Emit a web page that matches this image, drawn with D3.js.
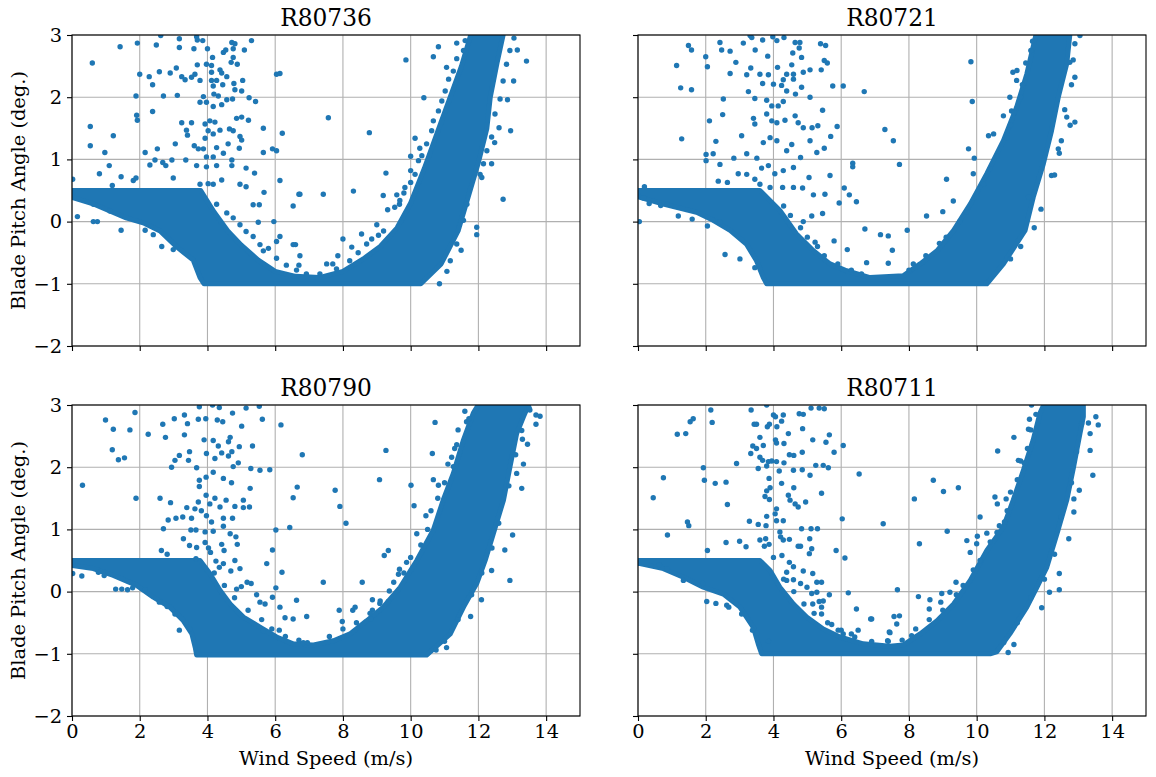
<!DOCTYPE html>
<html>
<head>
<meta charset="utf-8">
<script src="https://cdn.jsdelivr.net/npm/d3@7"></script>
<style>
  body{ margin:0; background:#fff; font-family:"DejaVu Serif",serif; }
</style>
</head>
<body>
<div id="chart"></div>
<script>
// turbines, in panel order (row by row)
var turbines = ["R80736", "R80721", "R80790", "R80711"]
var xTicks = [0, 2, 4, 6, 8, 10, 12, 14]
var yTicks = [-2, -1, 0, 1, 2, 3]

// outline of the dense cloud of points (wind speed, pitch)
var band80736 = [[0,0.5],[3.8,0.5],[4.2,0.15],[4.6,-0.15],[5,-0.38],[5.5,-0.62],[6,-0.8],[6.6,-0.88],[7.3,-0.9],[8,-0.8],[8.6,-0.6],[9.1,-0.4],[9.6,-0.1],[10,0.3],[10.4,0.85],[10.8,1.45],[11.2,2.05],[11.5,2.5],[11.8,3.05],[12.75,3.05],[12.55,2.55],[12.35,2.0],[12.25,1.5],[12.0,0.95],[11.7,0.4],[11.4,-0.15],[10.9,-0.68],[10.3,-1.0],[3.9,-1.0],[3.78,-0.9],[3.58,-0.62],[3.1,-0.41],[2.6,-0.15],[2.1,-0.02],[1.6,0.06],[0.6,0.29],[0,0.39]]
var band80721 = [[0,0.5],[3.6,0.5],[4.19,0.18],[4.68,-0.2],[5.18,-0.47],[5.67,-0.68],[6.16,-0.79],[6.85,-0.9],[7.83,-0.87],[8.33,-0.68],[8.83,-0.47],[9.32,-0.14],[9.81,0.28],[10.3,0.77],[10.79,1.3],[11.18,1.84],[11.48,2.37],[11.77,3.05],[12.76,3.05],[12.66,2.54],[12.41,2.0],[12.21,1.46],[11.97,0.93],[11.67,0.39],[11.43,-0.14],[10.79,-0.68],[10.3,-1.0],[3.8,-1.0],[3.7,-0.9],[3.5,-0.63],[3.2,-0.36],[2.72,-0.14],[2.22,0.02],[1.73,0.15],[0.75,0.28],[0.06,0.39],[0,0.4]]
var band80790 = [[0,0.5],[3.78,0.5],[4.07,0.29],[4.37,0.02],[4.67,-0.2],[5.06,-0.41],[5.55,-0.57],[6.04,-0.73],[6.53,-0.84],[7.1,-0.86],[7.72,-0.79],[8.21,-0.68],[8.7,-0.47],[9.19,-0.25],[9.69,0.07],[10.18,0.5],[10.67,0.99],[10.96,1.47],[11.26,1.9],[11.56,2.44],[11.85,2.87],[12.05,3.05],[13.52,3.05],[13.33,2.81],[13.13,2.54],[12.93,2.0],[12.74,1.47],[12.44,0.93],[12.2,0.5],[11.95,0.13],[11.56,-0.25],[11.17,-0.68],[10.47,-1.02],[3.68,-1.02],[3.64,-0.9],[3.54,-0.68],[3.29,-0.47],[2.89,-0.25],[2.4,-0.09],[1.91,0.1],[1.22,0.26],[0.63,0.37],[0,0.42]]
var band80711 = [[0,0.5],[3.6,0.5],[3.9,0.34],[4.19,0.07],[4.59,-0.2],[4.98,-0.41],[5.47,-0.6],[5.96,-0.73],[6.65,-0.84],[7.44,-0.88],[7.83,-0.86],[8.33,-0.68],[8.83,-0.47],[9.32,-0.2],[9.81,0.18],[10.3,0.66],[10.79,1.04],[11.08,1.47],[11.38,1.95],[11.67,2.44],[11.87,2.87],[12.02,3.05],[13.15,3.05],[13.15,2.81],[13.05,2.54],[12.86,2.0],[12.66,1.47],[12.37,0.93],[12.07,0.39],[11.77,0.06],[11.48,-0.25],[10.98,-0.68],[10.59,-0.97],[10.4,-1.0],[3.65,-1.0],[3.55,-0.84],[3.41,-0.58],[3.01,-0.25],[2.52,-0.04],[1.93,0.07],[1.34,0.23],[0.75,0.37],[0.06,0.45],[0,0.45]]

// scattered points outside the dense cloud
var pts80736 = [[1.42,2.81],[1.93,2.87],[0.6,2.55],[2.49,2.84],[3.17,2.94],[3.17,2.8],[2.62,2.99],[3.68,2.97],[3.7,2.92],[3.86,2.91],[4.0,2.78],[3.6,2.78],[4.15,2.64],[4.47,2.72],[4.72,2.88],[4.81,2.86],[4.76,2.78],[4.54,2.76],[4.76,2.64],[4.7,2.56],[4.88,2.53],[5.09,2.76],[5.3,2.91],[3.7,2.52],[3.97,2.53],[4.12,2.51],[2.0,2.37],[2.28,2.33],[2.58,2.41],[2.9,2.39],[3.08,2.47],[2.38,2.2],[3.24,2.33],[3.34,2.28],[3.63,2.37],[3.78,2.27],[3.53,2.32],[4.12,2.4],[4.37,2.44],[4.42,2.39],[4.57,2.33],[4.27,2.27],[4.12,2.27],[4.17,2.18],[4.45,2.2],[4.78,2.22],[5.04,2.27],[4.81,2.12],[5.01,2.1],[6.04,2.37],[6.14,2.38],[1.89,2.02],[2.7,2.02],[3.11,2.03],[3.88,2.01],[3.78,1.92],[3.97,1.92],[4.19,2.05],[4.32,2.02],[4.57,1.96],[4.74,1.97],[4.42,1.88],[4.17,1.85],[5.23,1.99],[5.42,1.93],[2.38,1.77],[1.91,1.71],[1.93,1.63],[0.54,1.53],[1.22,1.38],[0.54,1.22],[3.24,1.59],[3.53,1.59],[3.38,1.47],[3.41,1.39],[3.93,1.57],[4.07,1.62],[4.22,1.6],[4.02,1.46],[4.17,1.41],[4.37,1.47],[4.65,1.49],[4.76,1.46],[4.86,1.66],[5.01,1.68],[5.21,1.63],[4.96,1.37],[5.01,1.31],[5.65,1.5],[6.21,1.42],[2.16,1.11],[2.52,1.17],[3.05,1.25],[3.61,1.22],[3.73,1.17],[3.93,1.34],[3.88,1.17],[4.27,1.19],[4.61,1.25],[4.94,1.18],[5.65,1.11],[5.92,1.17],[6.04,1.14],[0.97,1.11],[1.1,0.9],[0.81,0.77],[1.45,0.72],[2.3,0.91],[2.45,0.99],[2.68,0.95],[2.77,0.9],[2.95,0.99],[2.99,0.7],[3.36,0.99],[3.68,0.9],[3.97,1.04],[3.97,0.88],[4.17,1.04],[4.27,0.9],[4.47,1.1],[4.72,0.99],[4.72,0.9],[5.14,0.86],[5.39,0.78],[6.14,0.66],[1.89,0.7],[0.02,0.68],[1.19,0.58],[1.81,0.66],[3.78,0.6],[4.02,0.61],[4.17,0.6],[4.42,0.67],[4.96,0.6],[5.14,0.56],[5.67,0.47],[6.7,0.44],[6.53,0.25],[5.96,0],[5.5,-0.01],[5.35,0.27],[5.53,0.27],[0.16,0.08],[0.63,0],[0.75,0],[1.45,-0.14],[2.16,-0.14],[2.4,-0.21],[2.65,-0.4],[2.99,-0.45],[6.53,-0.37],[6.6,-0.37],[6.14,-0.24],[6.73,-0.55],[6.04,-0.32],[5.65,-0.47],[6.7,-0.7],[9.86,2.6],[7.57,1.67],[8.78,1.43],[6.73,0.44],[7.42,0.44],[8.31,0.49],[9.27,0.78],[9.19,0.42],[9.59,0.43],[9.67,0.28],[9.32,0.19],[8.0,-0.28],[8.55,-0.2],[8.26,-0.41],[7.52,-0.68],[7.7,-0.68],[7.85,-0.55],[10.39,1.99],[10.13,1.34],[10.0,1.05],[10.27,1.18],[10.0,0.82],[9.8,0.46],[10.67,2.65],[10.82,2.81],[11.06,2.48],[11.36,2.87],[12.73,0.36],[12.95,1.46],[12.39,0.93],[12.61,1.51],[12.86,1.96],[13.04,2.26],[13.42,2.58],[13.15,2.76],[13.05,2.95],[11.95,-0.09],[11.95,-0.21],[11.49,-0.46],[10.85,-1.0],[11.07,-0.8],[12.1,0.71],[12.48,1.27],
    [9.0,-0.05],[9.2,-0.15],[9.05,-0.22],[8.7,-0.36],[8.85,-0.28],[8.45,-0.5],[8.2,-0.63],[7.81,-0.76],[7.32,-0.84],[6.93,-0.87],[9.53,0.23],[9.68,0.34],[9.83,0.55],[10.0,0.63],[10.13,0.76],[10.23,0.98],[10.33,1.06],[10.47,1.25],[10.62,1.46],[10.67,1.62],[10.82,1.78],[10.92,1.94],[11.02,2.1],[11.12,2.29],[11.26,2.42],[11.36,2.62],[11.56,2.75],[11.61,2.91],[12.05,0.76],[12.15,0.93],[12.25,1.14],[12.39,1.36],[12.49,1.73],[12.64,1.97],[12.73,2.26],[12.83,2.53],[12.93,2.75],[11.66,0.28],[11.56,0.02],[11.36,-0.36],[11.17,-0.63],[4.27,0.28],[4.57,0.14],[4.76,0.06],[4.96,-0.05],[5.14,-0.16],[5.35,-0.24],[5.55,-0.37],[5.8,-0.43],[6.04,-0.59],[6.33,-0.7],[6.63,-0.78],[6.92,-0.84],[0.63,0.28],[1.12,0.17]]
var pts80721 = [[1.49,2.83],[1.58,2.76],[1.14,2.51],[1.26,2.15],[1.58,2.12],[1.29,1.33],[2.0,2.65],[2.05,2.49],[2.42,2.88],[2.47,2.76],[2.72,2.74],[2.89,2.56],[3.11,2.87],[3.31,2.99],[3.36,2.96],[3.68,2.92],[3.98,2.97],[4.1,2.91],[4.31,2.96],[4.64,2.88],[4.78,2.88],[4.76,2.79],[4.57,2.71],[4.83,2.64],[5.39,2.86],[5.54,2.83],[5.5,2.59],[5.59,2.55],[3.46,2.76],[3.83,2.66],[2.72,2.38],[3.21,2.36],[3.33,2.47],[3.6,2.37],[3.85,2.36],[4.12,2.48],[4.54,2.52],[4.39,2.37],[4.59,2.37],[4.88,2.4],[5.08,2.44],[5.41,2.44],[3.68,2.22],[4.0,2.21],[4.29,2.28],[4.59,2.29],[4.24,2.19],[4.39,2.1],[4.65,2.05],[4.83,2.16],[5.08,2.0],[5.75,2.18],[6.06,2.18],[6.68,2.09],[7.29,1.48],[2.52,1.97],[2.11,1.62],[2.5,1.72],[3.26,2.09],[3.45,1.98],[3.8,1.95],[3.95,1.86],[4.14,1.86],[4.29,1.93],[3.8,1.73],[3.41,1.66],[3.45,1.57],[3.95,1.62],[4.1,1.59],[4.34,1.63],[4.64,1.7],[4.73,1.59],[5.14,1.51],[5.31,1.54],[5.88,1.53],[5.45,1.79],[4.88,1.51],[3.06,1.38],[3.7,1.27],[3.9,1.35],[4.1,1.3],[4.54,1.24],[4.39,1.14],[5.08,1.3],[5.28,1.11],[5.5,1.18],[5.69,1.37],[2.3,1.29],[2.01,1.08],[2.22,1.09],[2.01,0.98],[2.42,0.92],[2.83,1.02],[3.21,1.09],[3.51,1.02],[3.65,0.86],[3.85,0.9],[4.04,0.77],[4.29,0.82],[4.59,0.87],[4.8,1.03],[5.05,0.71],[5.67,0.74],[6.34,0.94],[6.34,0.88],[2.37,0.65],[2.64,0.63],[2.96,0.77],[3.21,0.76],[3.45,0.68],[3.6,0.6],[3.9,0.55],[4.27,0.55],[4.59,0.55],[4.86,0.54],[5.18,0.43],[5.52,0.44],[6.09,0.54],[6.24,0.43],[6.45,0.32],[5.94,0.3],[0.19,0.56],[0.16,0.38],[0.33,0.29],[0.67,0.26],[0.86,0.28],[1.19,0.09],[1.6,0.04],[0.04,0.0],[2.05,-0.07],[2.42,-0.01],[2.57,-0.53],[3.01,-0.6],[3.45,-0.74],[6.7,-0.12],[7.16,-0.21],[7.39,-0.23],[5.79,-0.31],[6.18,-0.45],[6.75,-0.66],[7.39,-0.67],[4.88,0.0],[5.13,0.09],[5.45,0.13],[5.23,-0.33],[9.83,2.57],[9.87,1.93],[7.54,1.3],[7.72,0.92],[9.11,0.68],[9.76,1.17],[9.93,1.02],[9.9,0.77],[8.52,0.09],[9.0,0.16],[9.31,0.33],[7.95,-0.14],[7.51,-0.46],[8.13,-0.68],[11.07,2.4],[11.19,2.43],[11.18,2.27],[10.98,2.0],[11.03,1.78],[10.79,1.7],[10.5,1.41],[10.35,1.38],[12.75,2.56],[12.9,2.32],[12.9,2.86],[13.05,2.99],[12.9,1.6],[12.76,1.55],[12.44,1.1],[12.21,0.74],[12.41,1.17],[12.66,1.68],[11.53,0.4],[10.28,-0.99],
    [4.3,0.25],[4.5,0.1],[4.8,-0.1],[5.0,-0.25],[5.3,-0.4],[5.5,-0.55],[5.9,-0.68],[6.3,-0.78],[6.6,-0.84],[8.0,-0.78],[8.5,-0.55],[8.9,-0.35],[9.1,-0.25],[9.5,0.0],[9.7,0.15],[10.0,0.4],[10.2,0.6],[10.4,0.85],[10.6,1.05],[10.9,1.35],[11.0,1.55],[11.1,1.75],[11.3,2.0],[11.35,2.2],[11.45,2.55],[11.6,2.75],[11.65,2.9],[12.3,0.75],[12.5,1.3],[12.6,1.8],[12.8,2.2],[12.85,2.6],[11.9,0.2],[11.7,-0.1],[11.3,-0.4],[11.0,-0.6]]
var pts80790 = [[0.99,2.76],[1.22,2.61],[1.19,2.28],[1.37,2.12],[1.55,2.15],[1.71,2.6],[1.86,2.88],[2.25,2.53],[0.31,1.71],[1.89,1.5],[2.6,1.5],[2.68,2.69],[2.76,2.48],[3.02,2.78],[3.32,2.84],[3.41,2.7],[3.32,2.52],[3.76,2.97],[3.73,2.77],[3.95,2.78],[4.15,3.0],[4.35,2.96],[4.29,2.76],[4.45,2.73],[4.74,2.87],[5.01,2.66],[5.14,2.95],[5.53,2.98],[5.62,2.77],[6.17,2.68],[6.8,2.2],[3.9,2.44],[4.17,2.43],[4.32,2.34],[4.67,2.48],[4.62,2.41],[4.72,2.25],[4.94,2.33],[5.33,2.34],[3.17,2.19],[3.04,2.11],[3.47,2.25],[3.44,2.11],[2.94,2.0],[3.68,1.99],[3.97,2.22],[4.22,2.14],[4.42,2.23],[4.62,2.18],[4.91,2.07],[4.76,2.01],[5.28,1.98],[5.55,1.95],[5.84,1.96],[3.76,1.79],[3.96,1.84],[4.17,1.92],[4.47,1.82],[4.71,1.75],[3.76,1.69],[3.96,1.55],[4.22,1.5],[4.55,1.47],[4.81,1.37],[5.06,1.47],[5.26,1.66],[5.06,1.35],[3.73,1.44],[3.39,1.35],[3.63,1.33],[4.07,1.41],[4.37,1.36],[5.24,1.36],[6.53,1.51],[6.65,1.68],[2.91,1.43],[2.84,1.15],[3.07,1.18],[3.27,1.2],[3.53,1.18],[3.82,1.3],[3.97,1.22],[4.12,1.12],[4.47,1.18],[4.74,1.18],[2.7,1.01],[3.51,0.99],[3.66,0.99],[3.93,0.96],[4.17,0.97],[4.47,1.05],[4.67,0.93],[4.84,0.88],[6.02,0.99],[6.43,1.03],[3.29,0.85],[3.47,0.74],[3.68,0.71],[3.93,0.79],[4.03,0.7],[4.42,0.76],[4.49,0.66],[4.88,0.76],[2.64,0.66],[2.81,0.6],[5.92,0.67],[3.66,0.53],[4.09,0.63],[4.25,0.49],[4.47,0.45],[4.35,0.39],[4.81,0.5],[4.69,0.33],[4.96,0.37],[5.75,0.45],[6.2,0.31],[4.86,0.04],[5.0,0.08],[5.17,0.15],[5.29,0.13],[6.02,0.06],[5.45,-0.05],[5.55,-0.17],[5.7,-0.2],[5.92,-0.09],[6.63,-0.14],[6.14,-0.25],[6.29,-0.42],[6.53,-0.44],[6.93,-0.4],[6.12,-0.62],[5.65,-0.63],[0.02,0.29],[0.29,0.25],[0.78,0.31],[0.95,0.26],[1.29,0.04],[1.47,0.04],[1.64,0.03],[1.79,0.06],[2.16,0.03],[2.58,-0.17],[2.81,-0.24],[3.04,-0.36],[3.17,-0.62],[3.37,-0.5],[3.48,-0.6],[6.83,-0.82],[6.95,-0.82],[9.27,2.27],[9.08,1.8],[7.77,1.63],[7.91,1.37],[8.09,1.1],[7.42,0.15],[8.57,0.15],[7.89,-0.3],[8.29,-0.3],[8.36,-0.25],[7.98,-0.48],[8.87,-0.13],[9.09,-0.19],[9.34,-0.16],[8.87,-0.3],[8.82,-0.44],[9.34,0.66],[9.22,0.58],[10.01,1.71],[10.1,1.38],[10.45,1.22],[10.64,2.22],[10.72,2.72],[10.67,1.8],[10.82,1.71],[10.18,0.93],[9.88,0.47],[9.67,0.36],[9.64,0.28],[9.37,0.01],[11.36,2.36],[11.21,2.16],[11.26,2.01],[11.65,2.73],[11.72,2.78],[13.82,2.82],[13.7,2.84],[13.7,2.69],[13.52,2.92],[13.28,2.59],[13.45,2.37],[13.33,2.05],[13.28,1.66],[13.13,1.9],[13.01,0.91],[12.78,0.67],[12.93,0.18],[12.39,0.34],[12.09,-0.13],[11.77,-0.4],[11.06,-0.9],[10.75,-0.94],
    [4.2,0.3],[4.5,0.1],[4.8,-0.1],[5.2,-0.3],[5.6,-0.45],[5.9,-0.6],[6.3,-0.72],[6.7,-0.78],[7.6,-0.72],[8.0,-0.6],[8.4,-0.5],[8.8,-0.35],[9.1,-0.15],[9.5,0.15],[9.8,0.3],[10.0,0.55],[10.3,0.75],[10.5,1.0],[10.6,1.3],[10.8,1.5],[11.0,1.75],[11.1,2.05],[11.3,2.3],[11.4,2.6],[11.6,2.9],[12.4,0.7],[12.6,1.1],[12.9,1.7],[13.1,2.2],[13.3,2.45],[13.5,2.95],[12.1,0.3],[11.8,-0.05],[11.4,-0.45],[11.0,-0.8]]
var pts80711 = [[0.45,1.51],[0.75,1.83],[0.87,0.91],[1.16,2.53],[1.41,2.54],[1.54,2.73],[1.63,2.78],[1.46,1.12],[1.5,1.06],[1.93,1.99],[1.96,1.79],[2.05,0.66],[2.15,2.92],[2.19,2.72],[2.28,1.74],[2.6,1.76],[2.64,1.4],[2.6,0.79],[3.0,0.81],[3.19,0.72],[2.91,2.06],[3.29,1.13],[3.34,2.92],[3.43,2.69],[3.5,2.69],[3.6,2.48],[3.7,2.35],[3.39,2.34],[3.5,2.3],[3.33,2.22],[3.6,2.16],[3.68,2.11],[3.55,1.98],[3.8,3.0],[3.82,2.65],[3.88,2.69],[4.0,2.84],[4.06,2.81],[4.29,2.84],[4.24,2.74],[4.1,2.65],[4.44,2.54],[4.06,2.44],[4.09,2.39],[4.31,2.38],[4.47,2.2],[4.6,2.19],[4.76,2.86],[4.88,2.85],[4.86,2.62],[4.85,2.24],[5.11,2.95],[5.35,2.95],[5.5,2.94],[5.16,2.44],[5.65,2.52],[5.55,2.4],[5.79,2.24],[6.06,2.35],[3.85,2.09],[3.95,2.1],[4.09,2.09],[4.31,2.07],[3.8,2.02],[4.17,1.94],[4.59,1.95],[4.85,1.96],[5.08,1.87],[5.25,2.03],[5.47,2.03],[5.62,1.99],[6.53,1.89],[3.87,1.82],[3.9,1.67],[4.24,1.74],[4.6,1.67],[3.8,1.62],[3.75,1.53],[3.88,1.48],[4.44,1.55],[4.49,1.47],[4.64,1.41],[4.73,1.36],[4.95,1.44],[5.42,1.58],[4.09,1.33],[4.05,1.25],[4.29,1.14],[4.09,1.14],[3.8,1.21],[3.55,1.08],[3.78,1.06],[4.83,1.01],[5.11,1.01],[5.3,1.01],[6.03,1.17],[7.24,1.09],[3.6,0.83],[3.77,0.85],[3.73,0.73],[3.87,0.76],[4.19,0.96],[4.21,0.88],[4.29,0.83],[4.47,0.84],[4.73,0.73],[4.8,0.73],[5.07,0.85],[5.13,0.69],[5.06,0.61],[5.85,0.66],[6.11,0.54],[4.0,0.55],[4.25,0.58],[4.47,0.47],[4.59,0.4],[4.39,0.31],[4.88,0.33],[5.16,0.29],[4.39,0.18],[4.59,0.19],[4.8,0.13],[4.99,0.07],[5.28,0.15],[5.42,0.15],[5.28,-0.01],[5.65,-0.05],[6.21,-0.02],[5.13,-0.03],[5.16,-0.2],[5.35,-0.16],[5.47,-0.15],[5.42,-0.25],[5.42,-0.36],[5.72,-0.53],[5.91,-0.62],[6.06,-0.68],[6.3,-0.68],[6.5,-0.62],[6.87,-0.44],[6.45,-0.28],[7.44,-0.66],[7.37,-0.79],[2.03,-0.16],[2.3,-0.19],[2.62,-0.22],[2.68,-0.25],[1.91,0.13],[1.34,0.18],[0.85,0.37],[0.63,0.43],[3.06,-0.36],[3.38,-0.62],[3.51,-0.67],[3.85,-0.8],[8.16,1.49],[8.31,0.77],[8.72,1.79],[9.02,1.61],[9.13,0.97],[9.46,1.67],[7.66,0.03],[8.28,-0.08],[6.9,-0.44],[7.56,-0.4],[7.72,-0.39],[7.64,-0.52],[7.42,-0.65],[7.39,-0.8],[8.08,-0.71],[8.62,-0.13],[8.6,-0.28],[8.97,-0.03],[8.94,-0.17],[9.21,-0.01],[9.39,0.15],[9.71,0.82],[9.81,0.63],[10.0,0.77],[10.02,0.89],[10.1,1.2],[10.3,0.94],[10.54,1.52],[10.61,1.41],[10.87,1.49],[10.67,1.06],[10.82,1.12],[10.62,2.26],[11.1,2.48],[11.23,2.11],[11.4,2.07],[11.53,2.61],[11.56,2.77],[11.62,3.0],[13.3,2.71],[13.52,2.81],[13.59,2.68],[13.35,2.54],[13.35,2.27],[13.43,1.87],[13.03,1.63],[12.87,1.49],[12.87,1.28],[12.72,0.85],[12.44,0.29],[12.44,0.03],[12.15,-0.01],[11.92,-0.26],[11.1,-0.85],[10.93,-0.98],
    [4.3,0.2],[4.6,0.0],[4.9,-0.2],[5.2,-0.35],[5.6,-0.5],[6.0,-0.62],[6.4,-0.73],[6.9,-0.8],[7.8,-0.78],[8.2,-0.6],[8.6,-0.45],[9.0,-0.3],[9.4,-0.05],[9.6,0.1],[9.9,0.35],[10.1,0.5],[10.4,0.8],[10.6,0.95],[10.9,1.3],[11.0,1.6],[11.2,1.8],[11.3,2.1],[11.5,2.3],[11.6,2.6],[11.75,2.85],[12.3,0.6],[12.5,1.2],[12.8,1.75],[12.95,2.25],[13.1,2.7],[12.0,0.2],[11.6,-0.1],[11.2,-0.5],[10.8,-0.82]]

var bands = [band80736, band80721, band80790, band80711]
var points = [pts80736, pts80721, pts80790, pts80711]

var blue = "#1f77b4"
var colX = [72, 638], rowY = [35, 405]
var pw = 508, ph = 311
var tickFont = "19.4px", titleFont = "23.3px"

var svg = d3.select("#chart").append("svg")
    .attr("width", 1156).attr("height", 777)
    .style("font-family", "'DejaVu Serif', serif")

var x = d3.scaleLinear().domain([0, 15]).range([0, pw])
var y = d3.scaleLinear().domain([-2, 3]).range([ph, 0])

for (var i = 0; i < turbines.length; i++) {
    var col = i % 2, row = Math.floor(i / 2)
    var g = svg.append("g").attr("transform", "translate(" + colX[col] + "," + rowY[row] + ")")

    g.append("clipPath").attr("id", "clip" + i)
        .append("rect").attr("width", pw).attr("height", ph)

    // grid
    g.selectAll(".gx").data(xTicks).enter().append("line")
        .attr("x1", d => x(d)).attr("x2", d => x(d))
        .attr("y1", 0).attr("y2", ph)
        .attr("stroke", "#b0b0b0").attr("stroke-width", 1.1)
    g.selectAll(".gy").data(yTicks).enter().append("line")
        .attr("y1", d => y(d)).attr("y2", d => y(d))
        .attr("x1", 0).attr("x2", pw)
        .attr("stroke", "#b0b0b0").attr("stroke-width", 1.1)

    var plot = g.append("g").attr("clip-path", "url(#clip" + i + ")")

    var outline = d3.line().x(d => x(d[0])).y(d => y(d[1])).curve(d3.curveLinearClosed)
    plot.append("path")
        .attr("d", outline(bands[i]))
        .attr("fill", blue).attr("stroke", blue)
        .attr("stroke-width", 5).attr("stroke-linejoin", "round")

    plot.selectAll("circle").data(points[i]).enter().append("circle")
        .attr("cx", d => x(d[0])).attr("cy", d => y(d[1]))
        .attr("r", 2.7).attr("fill", blue)

    // axes
    var xAxis = d3.axisBottom(x).tickValues(xTicks).tickSize(5).tickPadding(3)
        .tickFormat(row == 1 ? d3.format("d") : "")
    var ax = g.append("g").attr("transform", "translate(0," + ph + ")").call(xAxis)
    var yAxis = d3.axisLeft(y).tickValues(yTicks).tickSize(5).tickPadding(5)
        .tickFormat(col == 0 ? d3.format("d") : "")
    var ay = g.append("g").call(yAxis)
    ;[ax, ay].forEach(function (a) {
        a.select(".domain").remove()
        a.selectAll(".tick line").attr("stroke", "#000").attr("stroke-width", 1.1)
        a.selectAll("text").attr("fill", "#000")
            .style("font-size", tickFont).style("font-family", "'DejaVu Serif', serif")
    })

    g.append("rect").attr("width", pw).attr("height", ph)
        .attr("fill", "none").attr("stroke", "#000").attr("stroke-width", 1.1)

    g.append("text").attr("x", pw / 2).attr("y", -9)
        .attr("text-anchor", "middle").style("font-size", titleFont)
        .text(turbines[i])

    if (col == 0) {
        g.append("text")
            .attr("transform", "translate(" + (-47) + "," + (ph / 2) + ") rotate(-90)")
            .attr("text-anchor", "middle").style("font-size", tickFont)
            .text("Blade Pitch Angle (deg.)")
    }
    if (row == 1) {
        g.append("text").attr("x", pw / 2).attr("y", ph + 49)
            .attr("text-anchor", "middle").style("font-size", tickFont)
            .text("Wind Speed (m/s)")
    }
}
</script>
</body>
</html>
